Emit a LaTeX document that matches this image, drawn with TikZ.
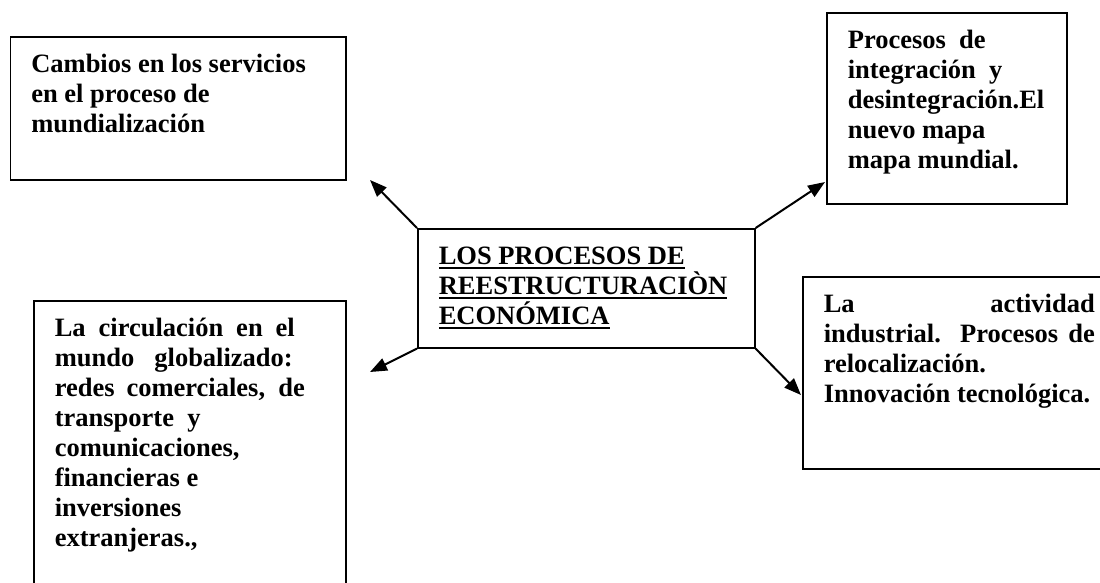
\documentclass[tikz,border=0pt]{standalone}
\usepackage{fontspec}
\setmainfont{Liberation Serif}
\usetikzlibrary{arrows.meta}
\newcommand\myul[1]{\setbox0\hbox{#1}\rlap{\rule[-4pt]{\wd0}{1.8pt}}\box0}
\newcommand\boxfont{\fontsize{26.5}{30}\selectfont\bfseries}
\newcommand\firstline{\rule{0pt}{36pt}}
\begin{document}
\begin{tikzpicture}[x=1pt,y=-1pt,
  box/.style={draw, line width=1.6pt, inner xsep=21pt, inner ysep=0pt, anchor=north west},
  arr/.style={line width=2pt, -{Triangle[length=17pt,width=13pt]}}]
\useasboundingbox (0,0) rectangle (1100,582);
\clip (0,0) rectangle (1100,582);
\fill[white] (0,0) rectangle (1100,582);
\node[box] (a) at (9.5,36) {\parbox[t][143pt][t]{293.5pt}{\boxfont\firstline
  Cambios en los servicios\\en el proceso de\\mundialización}};
\node[box] (b) at (826,12) {\parbox[t][191pt][t]{198pt}{\boxfont\firstline
  Procesos\ \ de\\integración\ \ y\\desintegración.El\\nuevo mapa\\mapa mundial.}};
\node[box] (c) at (417,228) {\parbox[t][119pt][t]{295pt}{\boxfont\firstline
  \myul{LOS PROCESOS DE}\\\myul{REESTRUCTURACIÒN}\\\myul{ECONÓMICA}}};
\node[box] (d) at (33,300) {\parbox[t][300pt][t]{270pt}{\boxfont\firstline
  \makebox[240pt][s]{La circulación en el}\\
  \makebox[238pt][s]{mundo globalizado:}\\
  \makebox[250pt][s]{redes comerciales, de}\\
  transporte\ \ y\\comunicaciones,\\financieras e\\inversiones\\extranjeras.,}};
\node[box] (e) at (802,276) {\parbox[t][192pt][t]{271pt}{\boxfont\firstline
  \makebox[271pt][s]{La actividad}\\
  \makebox[271pt][s]{industrial. Procesos de}\\
  relocalización.\\Innovación tecnológica.}};
\coordinate (t1) at (370,180);
\coordinate (t2) at (825,182);
\coordinate (t3) at (370,372);
\coordinate (t4) at (801,395);
\draw[arr] (c.north west) -- (t1);
\draw[arr] (c.north east) -- (t2);
\draw[arr] (c.south west) -- (t3);
\draw[arr] (c.south east) -- (t4);
\end{tikzpicture}
\end{document}
